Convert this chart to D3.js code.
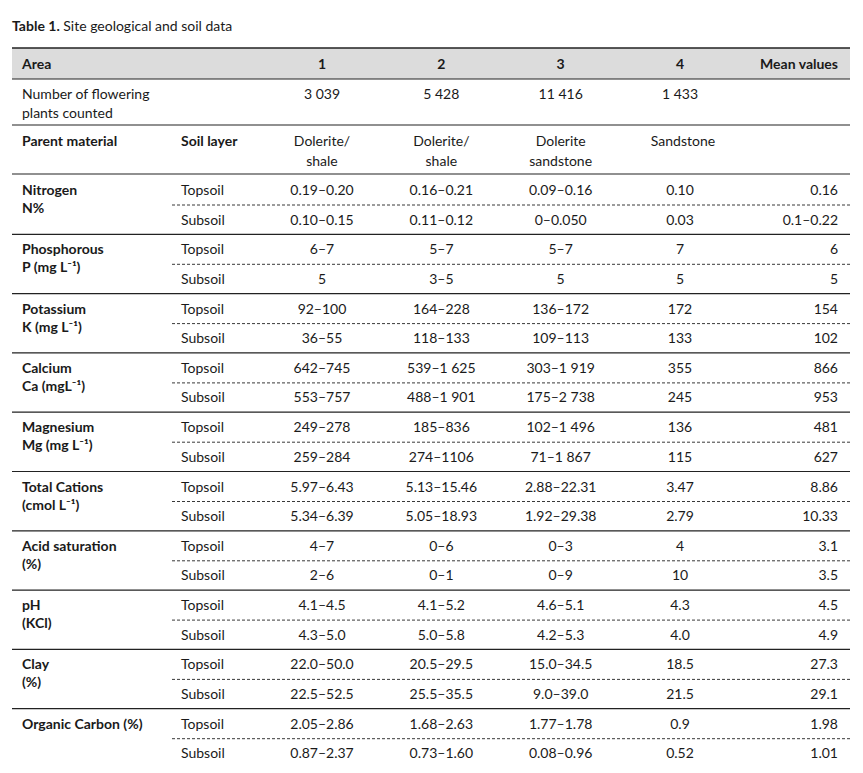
<!DOCTYPE html>
<html><head><meta charset="utf-8">
<script src="https://cdn.jsdelivr.net/npm/d3@7"></script>
<style>body{margin:0;background:#fff}text{font-family:Lato,"Open Sans",sans-serif;font-size:14px;fill:#1a1a1a}</style>
</head><body><svg id="plot" width="863" height="773"></svg>
<script>
const areas = ['1','2','3','4']
const plantCounts = ['3 039','5 428','11 416','1 433']
const parentMaterial = [['Dolerite/','shale'],['Dolerite/','shale'],['Dolerite','sandstone'],['Sandstone']]
const properties = [['Nitrogen','N%'],['Phosphorous','P (mg L⁻¹)'],['Potassium','K (mg L⁻¹)'],['Calcium','Ca (mgL⁻¹)'],['Magnesium','Mg (mg L⁻¹)'],['Total Cations','(cmol L⁻¹)'],['Acid saturation','(%)'],['pH','(KCl)'],['Clay','(%)'],['Organic Carbon (%)']]
const layers = ['Topsoil','Subsoil']
const topsoil = [
  ['0.19–0.20','0.16–0.21','0.09–0.16','0.10','0.16'],
  ['6–7','5–7','5–7','7','6'],
  ['92–100','164–228','136–172','172','154'],
  ['642–745','539–1 625','303–1 919','355','866'],
  ['249–278','185–836','102–1 496','136','481'],
  ['5.97–6.43','5.13–15.46','2.88–22.31','3.47','8.86'],
  ['4–7','0–6','0–3','4','3.1'],
  ['4.1–4.5','4.1–5.2','4.6–5.1','4.3','4.5'],
  ['22.0–50.0','20.5–29.5','15.0–34.5','18.5','27.3'],
  ['2.05–2.86','1.68–2.63','1.77–1.78','0.9','1.98']]
const subsoil = [
  ['0.10–0.15','0.11–0.12','0–0.050','0.03','0.1–0.22'],
  ['5','3–5','5','5','5'],
  ['36–55','118–133','109–113','133','102'],
  ['553–757','488–1 901','175–2 738','245','953'],
  ['259–284','274–1106','71–1 867','115','627'],
  ['5.34–6.39','5.05–18.93','1.92–29.38','2.79','10.33'],
  ['2–6','0–1','0–9','10','3.5'],
  ['4.3–5.0','5.0–5.8','4.2–5.3','4.0','4.9'],
  ['22.5–52.5','25.5–35.5','9.0–39.0','21.5','29.1'],
  ['0.87–2.37','0.73–1.60','0.08–0.96','0.52','1.01']]

const svg = d3.select('#plot')
const left = 12, right = 850
const colX = d3.scalePoint().domain(areas).range([322,680])
const groupY = d3.scaleLinear().domain([0,10]).range([175,768])
const rowStep = 29.5

// title
const t = svg.append('text').attr('x',12).attr('y',31)
t.append('tspan').attr('font-weight','bold').text('Table 1.')
t.append('tspan').text(' Site geological and soil data')

// header band
svg.append('rect').attr('x',left).attr('y',48).attr('width',right-left).attr('height',31).attr('fill','#dcdcdc')
const hline = (y,x1=left,dash=null,w=1.2)=>svg.append('line').attr('x1',x1).attr('x2',right).attr('y1',y).attr('y2',y)
  .attr('stroke','#222').attr('stroke-width',w).attr('stroke-dasharray',dash)
hline(48,left,null,1.5); hline(79); hline(125); hline(174)

svg.append('text').attr('x',22).attr('y',69).attr('font-weight','bold').text('Area')
svg.selectAll('.area').data(areas).enter().append('text').attr('x',d=>colX(d)).attr('y',69)
  .attr('text-anchor','middle').attr('font-weight','bold').text(d=>d)
svg.append('text').attr('x',838).attr('y',69).attr('text-anchor','end').attr('font-weight','bold').text('Mean values')

// plant counts
svg.append('text').attr('x',22).attr('y',99).text('Number of flowering')
svg.append('text').attr('x',22).attr('y',118).text('plants counted')
svg.selectAll('.cnt').data(plantCounts).enter().append('text').attr('x',(d,i)=>colX(areas[i])).attr('y',99)
  .attr('text-anchor','middle').text(d=>d)

// parent material
svg.append('text').attr('x',22).attr('y',146).attr('font-weight','bold').text('Parent material')
svg.append('text').attr('x',181).attr('y',146).attr('font-weight','bold').text('Soil layer')
parentMaterial.forEach((p,i)=>{
  p.forEach((s,j)=>svg.append('text').attr('x',colX(areas[i])+(i==3?3:0)).attr('y',146+j*20).attr('text-anchor','middle').text(s))
})

// groups
const valX = i => i<4 ? colX(areas[i]) : 838
properties.forEach((p,g)=>{
  const y0 = groupY(g)
  p.forEach((s,j)=>svg.append('text').attr('x',22).attr('y',y0+20+j*18).attr('font-weight','bold').text(s))
  ;[topsoil[g],subsoil[g]].forEach((vals,r)=>{
    const y = y0+20+r*rowStep
    svg.append('text').attr('x',181).attr('y',y).text(layers[r])
    svg.selectAll(null).data(vals).enter().append('text').attr('x',(d,i)=>valX(i)).attr('y',y)
      .attr('text-anchor',(d,i)=>i<4?'middle':'end').text(d=>d)
  })
  hline(y0+rowStep+0.5,172,'3,2',0.9)
  if (g<9) hline(groupY(g+1))
})
</script></body></html>
